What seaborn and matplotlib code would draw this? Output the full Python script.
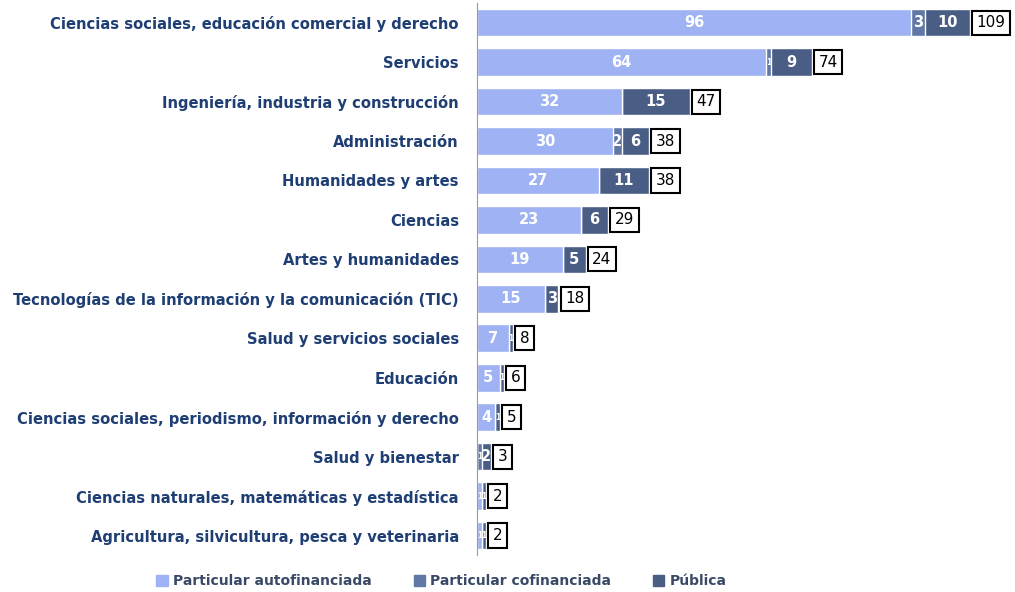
import numpy as np
import pandas as pd
import matplotlib
matplotlib.use("Agg")
import matplotlib.pyplot as plt
import seaborn as sns
from matplotlib.patches import Patch

categories = [
    "Ciencias sociales, educación comercial y derecho",
    "Servicios",
    "Ingeniería, industria y construcción",
    "Administración",
    "Humanidades y artes",
    "Ciencias",
    "Artes y humanidades",
    "Tecnologías de la información y la comunicación (TIC)",
    "Salud y servicios sociales",
    "Educación",
    "Ciencias sociales, periodismo, información y derecho",
    "Salud y bienestar",
    "Ciencias naturales, matemáticas y estadística",
    "Agricultura, silvicultura, pesca y veterinaria",
]
autofinanciada = [96, 64, 32, 30, 27, 23, 19, 15, 7, 5, 4, 0, 1, 1]
cofinanciada = [3, 1, 0, 2, 0, 0, 0, 0, 0, 0, 0, 1, 0, 0]
publica = [10, 9, 15, 6, 11, 6, 5, 3, 1, 1, 1, 2, 1, 1]
series_names = ["Particular autofinanciada", "Particular cofinanciada", "Pública"]
colors = ["#9fb3f4", "#6178a6", "#4a5e85"]
label_color = "#1f3f74"

df = pd.DataFrame({"cat": categories, "auto": autofinanciada,
                   "cof": cofinanciada, "pub": publica})
df["c1"] = df["auto"]
df["c2"] = df["auto"] + df["cof"]
df["c3"] = df["c2"] + df["pub"]

sns.set_style("white")
fig = plt.figure(figsize=(10.15, 5.92), dpi=100)
ax = fig.add_axes([0.47, 0.062, 0.53, 0.933])

# stacked bars drawn as overlapping cumulative totals
for col, c in zip(["c3", "c2", "c1"], colors[::-1]):
    sns.barplot(data=df, x=col, y="cat", color=c, width=0.7, ax=ax,
                saturation=1, orient="h")

ax.set_xlim(0, 119)
ax.set_xlabel("")
ax.set_ylabel("")
ax.set_xticks([])
for s in ["top", "right", "bottom"]:
    ax.spines[s].set_visible(False)
ax.spines["left"].set_color("#999999")
ax.tick_params(axis="y", length=0, pad=13)
ax.set_yticks(np.arange(len(categories) + 1) - 0.5, minor=True)
ax.tick_params(axis="y", which="minor", length=5, color="#999999", direction="out")
for t in ax.get_yticklabels():
    t.set_color(label_color)
    t.set_fontsize(10.6)
    t.set_fontweight("bold")

# segment labels
for i, row in df.iterrows():
    starts = [0, row["c1"], row["c2"]]
    vals = [row["auto"], row["cof"], row["pub"]]
    for s, v in zip(starts, vals):
        if v > 0:
            fs = 10.5 if v >= 2 else 5.5
            ax.text(s + v / 2, i, str(v), ha="center", va="center",
                    color="white", fontsize=fs, fontweight="bold")
    ax.text(row["c3"] + 1.5, i, str(row["c3"]), ha="left", va="center",
            fontsize=11, color="black",
            bbox=dict(boxstyle="square,pad=0.3", fc="white", ec="black", lw=1.5))

handles = [Patch(color=c) for c in colors]
fig.legend(handles, series_names, loc="lower center", bbox_to_anchor=(0.435, -0.015),
           ncol=3, frameon=False, handlelength=0.8, handleheight=0.8,
           columnspacing=3.0, handletextpad=0.4,
           prop={"size": 10, "weight": "bold"}, labelcolor="#3a4a66")

fig.savefig("out.png", dpi=100)
